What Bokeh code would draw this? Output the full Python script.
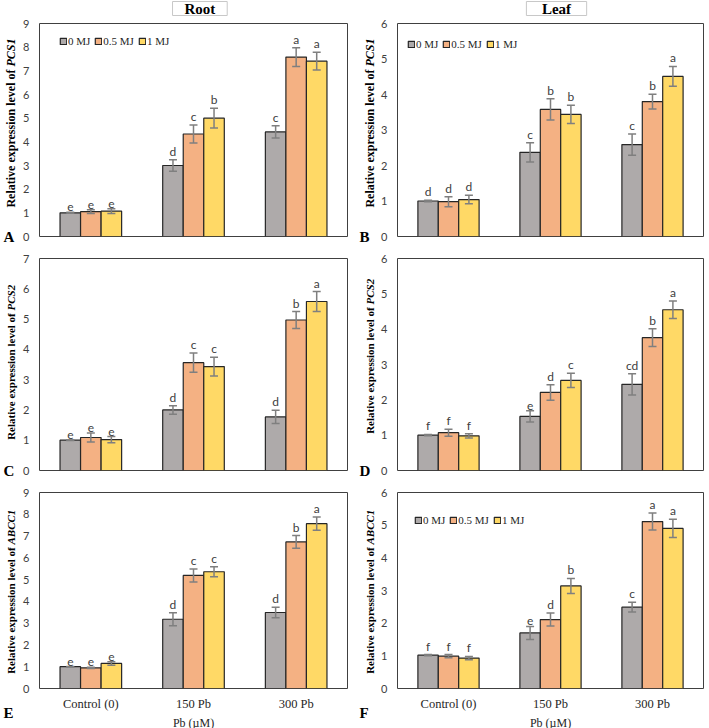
import math
from bokeh.plotting import figure
from bokeh.models import Range1d, FactorRange, ColumnDataSource, Legend, LegendItem, FixedTicker
from bokeh.transform import dodge
from bokeh.layouts import column, row
from bokeh.core.properties import value
from bokeh.embed import file_html
from bokeh.resources import INLINE

groups = ["Control (0)", "150 Pb", "300 Pb"]
series_names = ["0 MJ", "0.5 MJ", "1 MJ"]
colors = ["#AEAAAA", "#F4B183", "#FFD966"]
offsets = [-0.2, 0.0, 0.2]

# rows: series (0, 0.5, 1 MJ); columns: groups
pcs1_root_mean = [[1.00, 3.00, 4.42], [1.05, 4.33, 7.58], [1.07, 5.00, 7.41]]
pcs1_root_err = [[0.02, 0.24, 0.26], [0.08, 0.38, 0.40], [0.10, 0.42, 0.37]]
pcs1_root_let = [["e", "d", "c"], ["e", "c", "a"], ["e", "b", "a"]]

pcs1_leaf_mean = [[1.00, 2.37, 2.59], [0.98, 3.58, 3.80], [1.04, 3.44, 4.51]]
pcs1_leaf_err = [[0.02, 0.27, 0.30], [0.14, 0.30, 0.21], [0.12, 0.26, 0.28]]
pcs1_leaf_let = [["d", "c", "c"], ["d", "b", "b"], ["d", "b", "a"]]

pcs2_root_mean = [[1.00, 2.00, 1.77], [1.09, 3.56, 4.97], [1.02, 3.43, 5.58]]
pcs2_root_err = [[0.01, 0.14, 0.22], [0.15, 0.32, 0.28], [0.10, 0.31, 0.33]]
pcs2_root_let = [["e", "d", "d"], ["e", "c", "b"], ["e", "c", "a"]]

pcs2_leaf_mean = [[1.00, 1.53, 2.44], [1.07, 2.21, 3.76], [0.98, 2.55, 4.55]]
pcs2_leaf_err = [[0.02, 0.16, 0.30], [0.10, 0.22, 0.25], [0.06, 0.20, 0.25]]
pcs2_leaf_let = [["f", "e", "cd"], ["f", "d", "b"], ["f", "c", "a"]]

abcc1_root_mean = [[1.00, 3.18, 3.49], [0.95, 5.19, 6.73], [1.15, 5.36, 7.57]]
abcc1_root_err = [[0.01, 0.30, 0.24], [0.03, 0.30, 0.29], [0.08, 0.23, 0.30]]
abcc1_root_let = [["e", "d", "d"], ["e", "c", "b"], ["e", "c", "a"]]

abcc1_leaf_mean = [[1.02, 1.70, 2.49], [0.99, 2.11, 5.11], [0.93, 3.14, 4.90]]
abcc1_leaf_err = [[0.02, 0.20, 0.15], [0.05, 0.20, 0.26], [0.05, 0.23, 0.28]]
abcc1_leaf_let = [["f", "e", "c"], ["f", "d", "a"], ["f", "b", "a"]]

SERIF = "Liberation Serif"
SANS = "Lato"

STRIP_W = 20
COL_FW = [308, 306]
COL_MBR = [11, 5]
MBL = 19
ROW_DIMS = [(213, 7, 11), (212, 11, 10), (196, 12, 40)]  # frame h, top, bottom
HEADER_H = 16
# height (px above the frame bottom) where the gene name begins in each y label
JUNCTION = [[170, 170], [160, 166], [144, 144]]
LABEL_FS = [12, 11, 11]


def blank(width, height):
    s = figure(width=width, height=height, x_range=Range1d(0, width),
               y_range=Range1d(0, height), x_axis_type=None, y_axis_type=None,
               min_border=0, output_backend="svg", toolbar_location=None, tools="")
    s.outline_line_color = None
    s.background_fill_color = "white"
    s.border_fill_color = "white"
    return s


def make_panel(mean, err, lets, ymax, col, rowi, legend_pos=None):
    fw, mbr = COL_FW[col], COL_MBR[col]
    fh, mbt, mbb = ROW_DIMS[rowi]
    p = figure(x_range=FactorRange(*groups), y_range=Range1d(0, ymax),
               frame_width=fw, frame_height=fh,
               min_border_left=MBL, min_border_right=mbr,
               min_border_top=mbt, min_border_bottom=mbb,
               output_backend="svg", toolbar_location=None, tools="")
    p.xgrid.visible = False
    p.ygrid.visible = False
    p.outline_line_color = "#404040"
    p.outline_line_width = 1
    p.outline_line_alpha = 1

    ya = p.yaxis[0]
    ya.ticker = FixedTicker(ticks=list(range(0, ymax + 1)))
    ya.axis_line_color = None
    ya.major_tick_line_color = None
    ya.minor_tick_line_color = None
    ya.major_tick_out = 0
    ya.major_tick_in = 0
    ya.major_label_standoff = 10
    ya.major_label_text_font = SANS
    ya.major_label_text_font_size = "11px"
    ya.major_label_text_color = "#404040"

    xa = p.xaxis[0]
    if rowi < 2:
        xa.visible = False
    else:
        xa.axis_line_color = None
        xa.major_tick_line_color = None
        xa.minor_tick_line_color = None
        xa.major_tick_out = 0
        xa.major_tick_in = 0
        xa.major_label_standoff = 8
        xa.major_label_text_font = SERIF
        xa.major_label_text_font_size = "12.5px"
        xa.major_label_text_color = "#262626"
        xa.axis_label = "Pb (\u00b5M)"
        xa.axis_label_text_font = SERIF
        xa.axis_label_text_font_style = "normal"
        xa.axis_label_text_font_size = "12px"
        xa.axis_label_text_color = "#262626"
        xa.axis_label_standoff = 2

    items = []
    for i in range(3):
        lo = [m - e for m, e in zip(mean[i], err[i])]
        hi = [m + e for m, e in zip(mean[i], err[i])]
        src = ColumnDataSource(dict(g=groups, m=mean[i], lo=lo, hi=hi, lab=lets[i]))
        xd = dodge("g", offsets[i], range=p.x_range)
        r = p.vbar(x=xd, top="m", width=0.2, source=src, fill_color=colors[i],
                   line_color="#262626", line_width=1.2)
        items.append(LegendItem(label=series_names[i], renderers=[r]))
        p.segment(x0=xd, y0="lo", x1=xd, y1="hi", source=src,
                  line_color="#7F7F7F", line_width=1.5)
        p.scatter(x=xd, y="hi", source=src, marker="dash", size=8,
                  line_color="#7F7F7F", line_width=1.5)
        p.scatter(x=xd, y="lo", source=src, marker="dash", size=8,
                  line_color="#7F7F7F", line_width=1.5)
        p.text(x=xd, y="hi", text="lab", source=src, text_align="center",
               text_baseline="bottom", y_offset=-1,
               text_font=value(SANS), text_font_size="12px", text_color="#404040")

    if legend_pos is not None:
        lx, ly = legend_pos
        leg = Legend(items=items, orientation="horizontal", location=(lx, fh - ly),
                     padding=2, spacing=4, label_standoff=1, glyph_width=8,
                     glyph_height=8, label_height=12, margin=0,
                     label_text_font=SERIF, label_text_font_size="11px",
                     label_text_color="#262626",
                     border_line_color=None, background_fill_alpha=0)
        p.add_layout(leg)
    return p


def make_strip(gene, letter, col, rowi, height):
    fh, mbt, mbb = ROW_DIMS[rowi]
    s = blank(STRIP_W, height)
    fs = LABEL_FS[rowi]
    cx = 10 if col == 0 else 11
    yj = mbb + JUNCTION[rowi][col]
    # first part ends at the junction, the italic gene name starts there
    s.text(x=[cx], y=[yj], text=["Relative expression level of "], angle=math.pi / 2,
           text_align="right", text_baseline="middle", text_font=value(SERIF),
           text_font_style="bold", text_font_size=f"{fs}px", text_color="#000000")
    s.text(x=[cx], y=[yj], text=[gene], angle=math.pi / 2,
           text_align="left", text_baseline="middle", text_font=value(SERIF),
           text_font_style="bold italic", text_font_size=f"{fs}px", text_color="#000000")
    lx = 3 if col == 0 else 1
    ly = mbb if rowi < 2 else mbb - 24
    s.text(x=[lx], y=[ly], text=[letter], text_align="left",
           text_baseline="alphabetic", text_font=value(SERIF),
           text_font_style="bold", text_font_size="15px", text_color="#000000")
    return s


def make_header(title, col, box_cx, box_w):
    w = MBL + COL_FW[col] + COL_MBR[col]
    h = blank(w, HEADER_H)
    h.rect(x=[box_cx], y=[8], width=box_w, height=14, fill_color="white",
           line_color="#C8C8C8", line_width=1)
    h.text(x=[box_cx], y=[8], text=[title], text_align="center",
           text_baseline="middle", text_font=value(SERIF), text_font_style="bold",
           text_font_size="15px", text_color="#000000")
    return h


pA = make_panel(pcs1_root_mean, pcs1_root_err, pcs1_root_let, 9, 0, 0, legend_pos=(20, 24))
pB = make_panel(pcs1_leaf_mean, pcs1_leaf_err, pcs1_leaf_let, 6, 1, 0, legend_pos=(10, 27))
pC = make_panel(pcs2_root_mean, pcs2_root_err, pcs2_root_let, 7, 0, 1)
pD = make_panel(pcs2_leaf_mean, pcs2_leaf_err, pcs2_leaf_let, 6, 1, 1)
pE = make_panel(abcc1_root_mean, abcc1_root_err, abcc1_root_let, 9, 0, 2)
pF = make_panel(abcc1_leaf_mean, abcc1_leaf_err, abcc1_leaf_let, 6, 1, 2, legend_pos=(17, 34))

row_h = [HEADER_H + sum(ROW_DIMS[0]), sum(ROW_DIMS[1]), sum(ROW_DIMS[2])]

hA = make_header("Root", 0, 176, 60)
hB = make_header("Leaf", 1, 171.5, 65)

# panels are wrapped in columns so the label strips keep their own 1:1 pixel frames
r1 = row(make_strip("PCS1", "A", 0, 0, row_h[0]), column(hA, pA),
         make_strip("PCS1", "B", 1, 0, row_h[0]), column(hB, pB))
r2 = row(make_strip("PCS2", "C", 0, 1, row_h[1]), column(pC),
         make_strip("PCS2", "D", 1, 1, row_h[1]), column(pD))
r3 = row(make_strip("ABCC1", "E", 0, 2, row_h[2]), column(pE),
         make_strip("ABCC1", "F", 1, 2, row_h[2]), column(pF))

layout = column(r1, r2, r3)
open("out.html", "w").write(file_html(layout, INLINE))
